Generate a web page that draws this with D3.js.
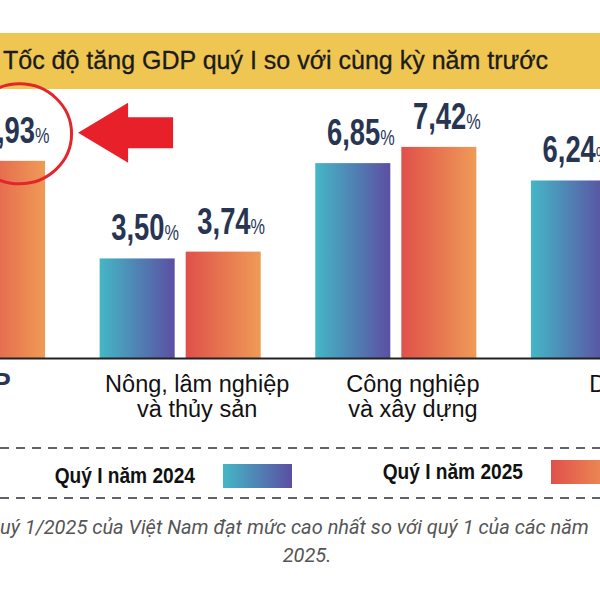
<!DOCTYPE html>
<html>
<head>
<meta charset="utf-8">
<script src="https://cdn.jsdelivr.net/npm/d3@7"></script>
<style>
	body { margin: 0; background: #fff; }
	svg { display: block; }
</style>
</head>
<body>
<svg width="600" height="600"></svg>
<script>
// Chart data
const categories = ["GDP", "Nông, lâm nghiệp\nvà thủy sản", "Công nghiệp\nvà xây dựng", "Dịch vụ"];
const series = ["Quý I năm 2024", "Quý I năm 2025"];
// values outside the cropped picture are unknown -> null
const values2024 = [null, 3.50, 6.85, 6.24];
const values2025 = [6.93, 3.74, 7.42, null];
const title = "Tốc độ tăng GDP quý I so với cùng kỳ năm trước";
const caption = ["quý 1/2025 của Việt Nam đạt mức cao nhất so với quý 1 của các năm", "2025."];

const svg = d3.select("svg");
const width = +svg.attr("width");
const baseY = 358;

// Gradients for the two series
const defs = svg.append("defs");
const gradStops = [["#44b7c6", "#5b4fa2"], ["#e0504a", "#ef9b57"]];
gradStops.forEach((s, i) => {
	const g = defs.append("linearGradient")
		.attr("id", "grad" + i)
		.attr("x1", 0).attr("x2", 1).attr("y1", 0).attr("y2", 0);
	g.append("stop").attr("offset", "0%").attr("stop-color", s[0]);
	g.append("stop").attr("offset", "100%").attr("stop-color", s[1]);
});

// Title band
svg.append("rect")
	.attr("x", 0).attr("y", 33)
	.attr("width", width).attr("height", 56)
	.attr("fill", "#efc652");
svg.append("text")
	.attr("x", 3).attr("y", 69)
	.attr("font-family", "Liberation Sans, Arial, sans-serif")
	.attr("font-size", 25)
	.attr("fill", "#1b1b1b")
	.attr("stroke", "#1b1b1b")
	.attr("stroke-width", 0.3)
	.text(title);

// Scales
const x = d3.scaleBand()
	.domain(categories)
	.range([-116, 692])
	.paddingInner(0.253);
const xSub = d3.scaleBand()
	.domain(series)
	.range([0, x.bandwidth()])
	.paddingInner(0.128);
const y = d3.scaleLinear()
	.domain([0, 8])
	.range([baseY, 130.4]);

// Bars
const bars = [];
categories.forEach((c, i) => {
	[values2024[i], values2025[i]].forEach((v, j) => {
		if (v !== null) bars.push({ cat: c, s: series[j], j: j, v: v });
	});
});

svg.append("g").selectAll("rect")
	.data(bars)
	.enter().append("rect")
		.attr("x", d => x(d.cat) + xSub(d.s))
		.attr("y", d => y(d.v))
		.attr("width", xSub.bandwidth())
		.attr("height", d => y(0) - y(d.v))
		.attr("fill", d => `url(#grad${d.j})`);

// Value labels (condensed look: bold font squeezed horizontally)
const fmt = v => v.toFixed(2).replace(".", ",");
const labels = svg.append("g").selectAll("text")
	.data(bars)
	.enter().append("text")
		.attr("transform", d => `translate(${x(d.cat) + xSub(d.s) + xSub.bandwidth() / 2 + 8},${y(d.v) - 18}) scale(0.74,1)`)
		.attr("text-anchor", "middle")
		.attr("font-family", "Liberation Sans, Arial, sans-serif")
		.attr("font-weight", "bold")
		.attr("font-size", 37)
		.attr("fill", "#273552");
labels.append("tspan").text(d => fmt(d.v));
labels.append("tspan")
	.attr("font-size", 22)
	.attr("font-weight", "normal")
	.text("%");

// Axis (baseline + category labels)
const axis = svg.append("g")
	.attr("transform", `translate(0,${baseY})`)
	.call(d3.axisBottom(x).tickSize(0).tickPadding(0));
axis.select(".domain")
	.attr("stroke", "#222")
	.attr("stroke-width", 2);
axis.selectAll(".tick text").each(function(d, i) {
	const t = d3.select(this);
	t.text(null)
		.attr("x", 17)
		.attr("y", 0)
		.attr("dy", null)
		.attr("font-family", "Liberation Sans, Arial, sans-serif")
		.attr("font-size", i === 0 ? 27 : 23.5)
		.attr("font-weight", i === 0 ? "bold" : "normal")
		.attr("fill", i === 0 ? "#2a3653" : "#111");
	d.split("\n").forEach((line, k) => {
		t.append("tspan")
			.attr("x", 17)
			.attr("y", 34 + k * 25)
			.text(line);
	});
});

// Annotation: red circle and arrow on the GDP 2025 label
const gx = x("GDP") + xSub(series[1]);
const gTop = y(values2025[0]);
svg.append("ellipse")
	.attr("cx", gx + xSub.bandwidth() / 2 + 12)
	.attr("cy", gTop - 27)
	.attr("rx", 52).attr("ry", 50)
	.attr("fill", "none")
	.attr("stroke", "#e3262b")
	.attr("stroke-width", 3);
const tipX = gx + xSub.bandwidth() + 33;
const tipY = gTop - 28;
svg.append("path")
	.attr("d", `M${tipX},${tipY} L${tipX + 50},${tipY - 30} L${tipX + 50},${tipY - 15.5} L${tipX + 95},${tipY - 15.5} L${tipX + 95},${tipY + 15.5} L${tipX + 50},${tipY + 15.5} L${tipX + 50},${tipY + 30} Z`)
	.attr("fill", "#e8202a");

// Legend between dashed lines
[448, 498].forEach(ly => {
	svg.append("line")
		.attr("x1", 0).attr("x2", width)
		.attr("y1", ly).attr("y2", ly)
		.attr("stroke", "#5d6470")
		.attr("stroke-width", 2)
		.attr("stroke-dasharray", "9 7");
});
const legend = svg.append("g").selectAll("g")
	.data(series)
	.enter().append("g")
		.attr("transform", (d, i) => `translate(${223 + i * 328},0)`);
legend.append("rect")
	.attr("x", 0).attr("y", (d, i) => 464 - i * 4)
	.attr("width", 69).attr("height", 24)
	.attr("fill", (d, i) => `url(#grad${i})`);
legend.append("text")
	.attr("transform", (d, i) => `translate(-28,${483 - i * 4}) scale(0.87,1)`)
	.attr("text-anchor", "end")
	.attr("font-family", "Liberation Sans, Arial, sans-serif")
	.attr("font-weight", "bold")
	.attr("font-size", 22)
	.attr("fill", "#111")
	.text(d => d);

// Caption
svg.append("text")
	.attr("x", -11).attr("y", 534)
	.attr("font-family", "Roboto, sans-serif")
	.attr("font-style", "italic")
	.attr("font-size", 20)
	.attr("fill", "#555")
	.text(caption[0]);
svg.append("text")
	.attr("x", 307).attr("y", 562)
	.attr("text-anchor", "middle")
	.attr("font-family", "Roboto, sans-serif")
	.attr("font-style", "italic")
	.attr("font-size", 20)
	.attr("fill", "#555")
	.text(caption[1]);
</script>
</body>
</html>
